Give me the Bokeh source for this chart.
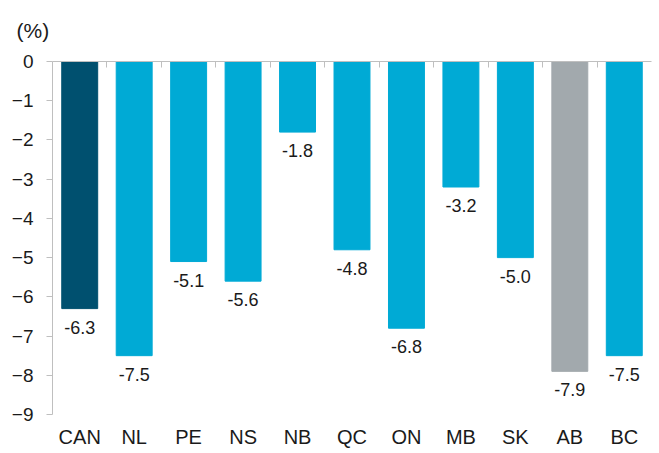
from bokeh.plotting import figure
from bokeh.models import (ColumnDataSource, Range1d, LinearAxis,
                          FixedTicker)
from bokeh.embed import file_html
from bokeh.resources import INLINE

categories = ["CAN", "NL", "PE", "NS", "NB", "QC", "ON", "MB", "SK", "AB", "BC"]
values = [-6.3, -7.5, -5.1, -5.6, -1.8, -4.8, -6.8, -3.2, -5.0, -7.9, -7.5]
colors = ["#00506F", "#00AAD5", "#00AAD5", "#00AAD5", "#00AAD5", "#00AAD5",
          "#00AAD5", "#00AAD5", "#00AAD5", "#A2A9AD", "#00AAD5"]
y_ticks = [0, -1, -2, -3, -4, -5, -6, -7, -8, -9]
value_labels = ["%.1f" % v for v in values]
unit_label = "(%)"

FONT = "Liberation Sans"
AXIS_GREY = "#BFBFBF"
TEXT = "#1a1a1a"

n = len(categories)
xpos = [i + 0.5 for i in range(n)]

source = ColumnDataSource(dict(x=xpos, val=values, color=colors,
                               lab=value_labels))

p = figure(x_range=Range1d(0, n), y_range=Range1d(-9, 0),
           width=656, height=452, output_backend="svg", toolbar_location=None,
           x_axis_location=None, y_axis_location=None,
           min_border_left=52, min_border_right=5, min_border_top=56,
           min_border_bottom=38, title=unit_label)
p.outline_line_color = None
p.xgrid.visible = False
p.ygrid.visible = False

p.title.align = "left"
p.title.vertical_align = "top"
p.title.standoff = 36
p.title.offset = -36
p.title.text_font = FONT
p.title.text_font_size = "21px"
p.title.text_font_style = "normal"
p.title.text_color = TEXT

p.vbar(x="x", top=0, bottom="val", width=0.66, color="color", source=source)

p.text(x="x", y="val", text="lab", source=source, text_align="center",
       text_baseline="top", y_offset=12, text_font_size="18px",
       text_color=TEXT, text_font={"value": FONT})

# bottom category axis
xa = LinearAxis(ticker=FixedTicker(ticks=xpos),
                major_label_overrides={x: c for x, c in zip(xpos, categories)})
xa.axis_line_color = None
xa.major_tick_line_color = None
xa.major_tick_out = 0
xa.major_tick_in = 0
xa.minor_tick_line_color = None
xa.major_label_text_font = FONT
xa.major_label_text_font_size = "20px"
xa.major_label_text_color = TEXT
xa.major_label_standoff = 11
p.add_layout(xa, "below")

# y axis
ya = LinearAxis(ticker=FixedTicker(ticks=y_ticks))
ya.axis_line_color = AXIS_GREY
ya.major_tick_line_color = AXIS_GREY
ya.major_tick_in = 0
ya.major_tick_out = 6
ya.minor_tick_line_color = None
ya.major_label_text_font = FONT
ya.major_label_text_font_size = "19px"
ya.major_label_text_color = TEXT
ya.major_label_standoff = 13
p.add_layout(ya, "left")

# top zero line with separator ticks between categories
top = LinearAxis(ticker=FixedTicker(ticks=list(range(1, n))))
top.axis_line_color = AXIS_GREY
top.major_tick_line_color = AXIS_GREY
top.major_tick_in = 6
top.major_tick_out = 0
top.minor_tick_line_color = None
top.major_label_text_font_size = "0px"
top.major_label_text_color = None
top.major_label_standoff = 0
p.add_layout(top, "above")

open("out.html", "w").write(file_html(p, INLINE))
